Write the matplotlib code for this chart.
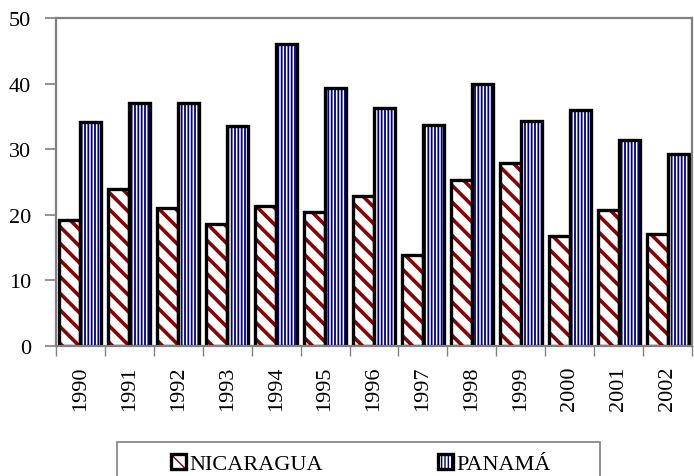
import matplotlib
matplotlib.use("Agg")
import matplotlib.pyplot as plt
import numpy as np
from matplotlib.patches import Rectangle, Patch

years = ["1990", "1991", "1992", "1993", "1994", "1995", "1996",
         "1997", "1998", "1999", "2000", "2001", "2002"]
nicaragua = [19.2, 24.0, 21.0, 18.6, 21.4, 20.4, 22.8, 13.9, 25.3, 27.9, 16.8, 20.8, 17.0]
panama = [34.2, 37.1, 37.0, 33.6, 46.1, 39.4, 36.3, 33.7, 39.9, 34.3, 35.9, 31.4, 29.2]

plt.rcParams.update({
    "font.family": ["Liberation Serif", "DejaVu Serif"],
    "font.size": 16,
})

C_NIC = "#8b0000"
C_PAN = "#000080"
GREY = "#808080"

fig = plt.figure(figsize=(6.94, 4.77), dpi=100)
ax = fig.add_axes([56 / 694, 1 - 347 / 477, 636 / 694, 328 / 477])

x = np.arange(len(years))
w = 0.43


def hatched_bars(xs, vals, hatch, color, hlw):
    with plt.rc_context({"hatch.linewidth": hlw}):
        bars = ax.bar(xs, vals, w, color="white", edgecolor=color, hatch=hatch, linewidth=0)
        for b in bars:
            if hasattr(b, "set_hatch_linewidth"):
                b.set_hatch_linewidth(hlw)
    ax.bar(xs, vals, w, fill=False, edgecolor="black", linewidth=2.4)


hatched_bars(x - w / 2, nicaragua, "\\\\", C_NIC, 2.6)
hatched_bars(x + w / 2, panama, "|||||", C_PAN, 1.3)

ax.set_xlim(-0.5, len(years) - 0.5)
ax.set_ylim(0, 50)
ax.set_yticks(range(0, 51, 10))
ax.set_xticks(x)
ax.set_xticklabels(years, rotation=90)
ax.set_xticks(np.arange(len(years) + 1) - 0.5, minor=True)
ax.tick_params(axis="x", which="major", length=0, pad=14)
ax.tick_params(axis="x", which="minor", length=7, color=GREY, width=1)
ax.tick_params(axis="y", length=8, color=GREY, width=1.2, pad=10)
for s in ax.spines.values():
    s.set_color(GREY)
    s.set_linewidth(1.6)

# legend
fig.patches.append(Rectangle((117 / 694, -0.05), 483 / 694, 0.05 + 1 - 443 / 477,
                             transform=fig.transFigure, fill=False,
                             edgecolor=GREY, linewidth=1.2))
with plt.rc_context({"hatch.linewidth": 2.5}):
    h1 = Patch(facecolor="white", edgecolor=C_NIC, hatch="\\\\", linewidth=0)
with plt.rc_context({"hatch.linewidth": 1.3}):
    h2 = Patch(facecolor="white", edgecolor=C_PAN, hatch="|||||", linewidth=0)
b1 = Patch(fill=False, edgecolor="black", linewidth=2.4)
b2 = Patch(fill=False, edgecolor="black", linewidth=2.4)
fig.legend([(h1, b1), (h2, b2)], ["NICARAGUA", "PANAMÁ"], ncol=2,
           loc="center", bbox_to_anchor=(361 / 694, 1 - 465 / 477),
           frameon=False, handlelength=0.65, handleheight=0.65,
           handletextpad=0.15, columnspacing=5.2, borderpad=0)

fig.savefig("out.png", dpi=100)
